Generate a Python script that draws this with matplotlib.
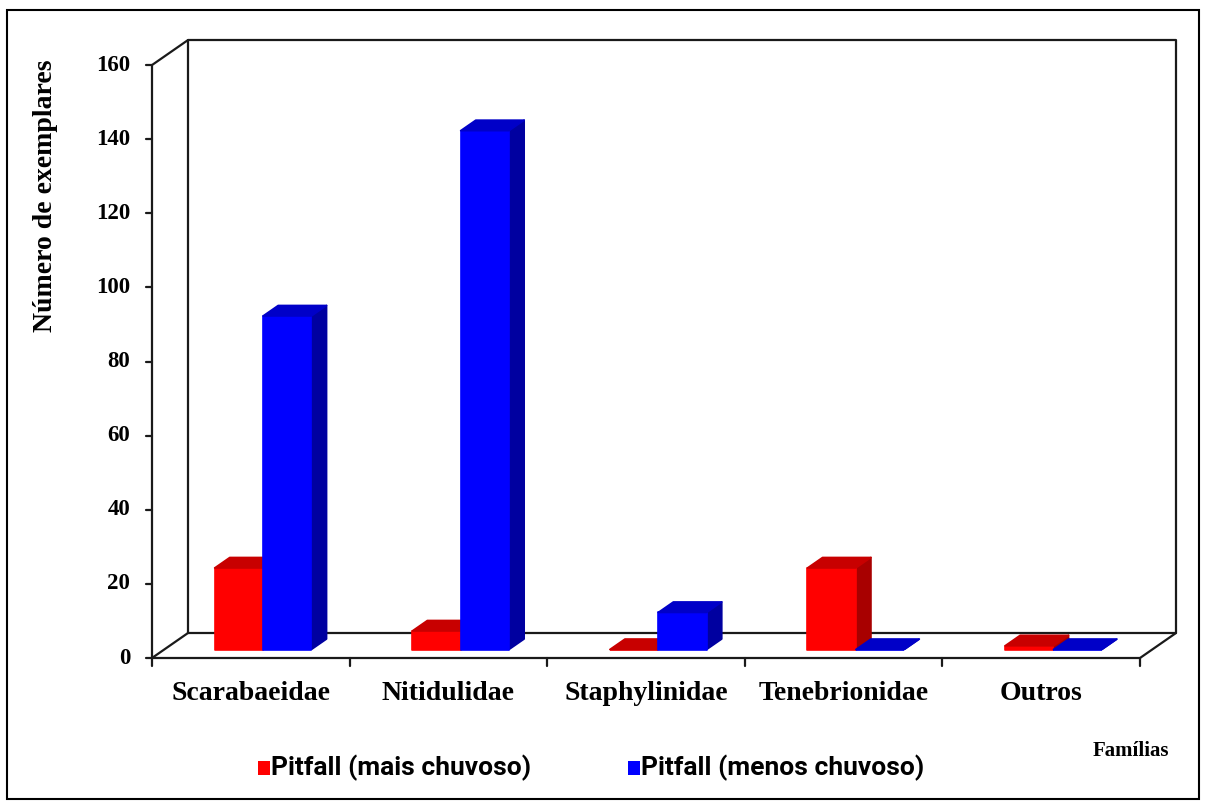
import matplotlib
matplotlib.use("Agg")
import matplotlib.pyplot as plt
from matplotlib.patches import Polygon, Rectangle

familias = ["Scarabaeidae", "Nitidulidae", "Staphylinidae", "Tenebrionidae", "Outros"]
mais_chuvoso = [22, 5, 0, 22, 1]
menos_chuvoso = [90, 140, 10, 0, 0]
series_labels = ["Pitfall (mais chuvoso)", "Pitfall (menos chuvoso)"]
y_ticks = [0, 20, 40, 60, 80, 100, 120, 140, 160]

# layout in pixels (figure is W x H, y measured from top)
W, H = 1207, 802
X0, CAT = 152, 197.6      # front value axis, width of one category
Y0, VAL = 658, 3.706      # zero line, pixels per unit
DX, DY = 36 / CAT, 25 / VAL   # full depth of the floor

plt.rcParams['font.family'] = ['Liberation Serif', 'DejaVu Serif']


def px_x(p):
    return (p - X0) / CAT


def px_y(p):
    return (Y0 - p) / VAL


def bar3d(ax, x0, w, h, front_c, top_c, side_c, f0=0.34, f1=0.76):
    a, b = f0 * DX, f0 * DY
    c, d = f1 * DX, f1 * DY
    side = [(x0 + w + a, b), (x0 + w + c, d), (x0 + w + c, h + d), (x0 + w + a, h + b)]
    front = [(x0 + a, b), (x0 + w + a, b), (x0 + w + a, h + b), (x0 + a, h + b)]
    top = [(x0 + a, h + b), (x0 + w + a, h + b), (x0 + w + c, h + d), (x0 + c, h + d)]
    for pts, col in [(side, side_c), (front, front_c), (top, top_c)]:
        ax.add_patch(Polygon(pts, closed=True, facecolor=col, edgecolor=col,
                             lw=1.2, joinstyle='round', zorder=3))


fig = plt.figure(figsize=(W / 100, H / 100), dpi=100)
ax = fig.add_axes([0, 0, 1, 1])
ax.set_xlim(px_x(0), px_x(W))
ax.set_ylim(px_y(H), px_y(0))
ax.axis('off')

n = len(familias)
ymax = y_ticks[-1]
line = dict(color='#1a1a1a', lw=1.6, solid_capstyle='round', zorder=2)

# back wall
ax.plot([DX, DX, n + DX, n + DX, DX], [DY, ymax + DY, ymax + DY, DY, DY], **line)
# left side edge + front value axis
ax.plot([0, 0, DX], [0, ymax, ymax + DY], **line)
# floor
ax.plot([0, DX], [0, DY], **line)
ax.plot([0, n, n + DX], [0, 0, DY], **line)

# value ticks
for v in y_ticks:
    ax.plot([px_x(146), 0], [v, v], **line)
    ax.text(px_x(130), v, str(v), ha='right', va='center', fontsize=16.5, weight='bold')

# category ticks and labels
for i in range(n + 1):
    ax.plot([i, i], [0, px_y(666)], **line)
for i, name in enumerate(familias):
    ax.text(i + 0.5, px_y(693), name, ha='center', va='center', fontsize=20, weight='bold')

# bars
w = 0.245
for i in range(n):
    c = i + 0.5
    bar3d(ax, c - w, w, mais_chuvoso[i], '#ff0000', '#c80000', '#a80000')
    bar3d(ax, c, w, menos_chuvoso[i], '#0000ff', '#0000c8', '#0000a0')

ax.text(px_x(45), px_y(196), "Número de exemplares", rotation=90, ha='center',
        va='center', fontsize=20, weight='bold')
ax.text(px_x(1131), px_y(751), "Famílias", ha='center', va='center',
        fontsize=15, weight='bold')

# legend
for lx, col, lab in [(258, '#ff0000', series_labels[0]), (628, '#0000ff', series_labels[1])]:
    ax.add_patch(Rectangle((px_x(lx), px_y(775)), 12 / CAT, 14 / VAL,
                           facecolor=col, edgecolor='none'))
    ax.text(px_x(lx + 13), px_y(768), lab, ha='left', va='center', fontsize=19,
            weight='bold', family=['Roboto', 'DejaVu Sans'])

# outer frame
fig.add_artist(Rectangle((7 / W, 3 / H), 1192 / W, 789 / H, transform=fig.transFigure,
                         fill=False, edgecolor='black', lw=1.5))

fig.savefig("out.png", dpi=100)
